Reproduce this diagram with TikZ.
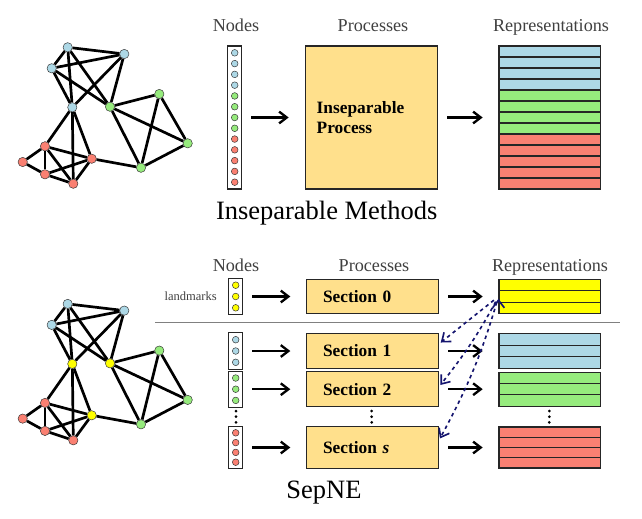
\documentclass[tikz,border=0pt]{standalone}
\usepackage{fontspec}
\setmainfont{Liberation Serif}
\usepackage{tikz}
\usetikzlibrary{arrows.meta}

\definecolor{nblue}{RGB}{173,216,230}
\definecolor{ngreen}{RGB}{150,235,125}
\definecolor{nred}{RGB}{250,128,114}
\definecolor{nyellow}{RGB}{255,255,0}
\definecolor{procfill}{RGB}{255,224,140}
\definecolor{refblue}{RGB}{20,20,110}

\begin{document}
\begin{tikzpicture}[x=0.03cm,y=-0.03cm,
        >={Straight Barb[length=6.5pt,width=10pt]},
        gnode/.style={circle,draw=black!80,thin,inner sep=0pt,minimum size=2.8mm},
        link/.style={line width=2.3pt},
        col/.style={draw=black!85,fill=white,line width=0.9pt,inner sep=0pt,minimum width=0.41cm},
        dot/.style={draw=black!80,thin},
        proc/.style={draw=black!85,fill=procfill,line width=0.9pt,align=left,
            font=\bfseries\fontsize{14.8}{16.8}\selectfont},
        sec/.style={proc,inner xsep=0.49cm,text width=2.97cm},
        rep/.style={draw=black!85,line width=0.9pt,inner sep=0pt,minimum width=3.05cm},
        band/.style={draw=black!85,line width=0.9pt},
        lbl/.style={text=black!75,anchor=base,font=\fontsize{15.5}{18}\selectfont},
        title/.style={anchor=base,font=\fontsize{22.6}{26}\selectfont},
        flow/.style={->,line width=2pt,shorten <=8pt,shorten >=13.5pt},
        ref/.style={->,dashed,draw=refblue,line width=1.4pt,shorten <=5pt,shorten >=2pt}]
    \useasboundingbox (0,0) rectangle (642,518);

    % the two graphs (top: plain, bottom: landmarks in yellow)
    \foreach \g/\dy/\cb/\cg/\cr in {t/0/nblue/ngreen/nred, s/256.6/nyellow/nyellow/nyellow}{
        \begin{scope}[shift={(0,\dy)}]
            \node[gnode,fill=nblue]  (\g b1) at (67.7,47.3) {};
            \node[gnode,fill=nblue]  (\g b2) at (124.3,54) {};
            \node[gnode,fill=nblue]  (\g b3) at (51.7,68.3) {};
            \node[gnode,fill=\cb]    (\g b4) at (72.3,107.3) {};
            \node[gnode,fill=\cg]    (\g g1) at (110,106.7) {};
            \node[gnode,fill=ngreen] (\g g2) at (159.3,94) {};
            \node[gnode,fill=ngreen] (\g g3) at (187.7,143.3) {};
            \node[gnode,fill=ngreen] (\g g4) at (141,167.7) {};
            \node[gnode,fill=nred]   (\g r1) at (45,146.3) {};
            \node[gnode,fill=nred]   (\g r2) at (22.7,162) {};
            \node[gnode,fill=nred]   (\g r3) at (45,174.3) {};
            \node[gnode,fill=nred]   (\g r4) at (73.3,183.7) {};
            \node[gnode,fill=\cr]    (\g r5) at (91.7,158.7) {};
        \end{scope}
        \path[link] (\g b1) edge (\g b2)
                    (\g b1) edge (\g b3)
                    (\g b1) edge (\g b4)
                    (\g b1) edge (\g g1)
                    (\g b3) edge (\g b2)
                    (\g b3) edge (\g b4)
                    (\g b3) edge (\g g1)
                    (\g b2) edge (\g b4)
                    (\g b2) edge (\g g1)
                    (\g g1) edge (\g g2)
                    (\g g1) edge (\g g3)
                    (\g g1) edge (\g g4)
                    (\g g2) edge (\g g3)
                    (\g g2) edge (\g g4)
                    (\g g3) edge (\g g4)
                    (\g b4) edge (\g r1)
                    (\g b4) edge (\g r4)
                    (\g b4) edge (\g r5)
                    (\g r1) edge (\g r2)
                    (\g r1) edge (\g r3)
                    (\g r1) edge (\g r4)
                    (\g r1) edge (\g r5)
                    (\g r2) edge (\g r3)
                    (\g r3) edge (\g r4)
                    (\g r3) edge (\g r5)
                    (\g r4) edge (\g r5)
                    (\g r5) edge (\g g4);
    }

    % inseparable methods
    \node[lbl] (tnodes) at (236,31.5) {Nodes};
    \node[lbl] (tprocs) at (373,31.5) {Processes};
    \node[lbl] (treps)  at (551,31.5) {Representations};

    \node[col,minimum height=4.29cm] (tcol) at (234.7,117.5) {};
    \foreach \i/\c in {0/nblue,1/nblue,2/nblue,3/nblue,4/ngreen,5/ngreen,6/ngreen,7/ngreen,
                       8/nred,9/nred,10/nred,11/nred,12/nred}
        \filldraw[dot,fill=\c] (234.7,{117.5+(\i-6)*10.78}) circle (0.1cm);

    \node[proc,inner xsep=0.35cm,text width=3.27cm,minimum height=4.29cm] (tproc) at (371.2,117.5) {Inseparable\\Process};

    \foreach \i/\c in {0/nblue,1/nblue,2/nblue,3/nblue,4/ngreen,5/ngreen,6/ngreen,7/ngreen,
                       8/nred,9/nred,10/nred,11/nred,12/nred}
        \filldraw[band,fill=\c] (499,{46+\i*11}) rectangle (600.7,{57+\i*11});
    \node[rep,minimum height=4.29cm] (trep) at (549.85,117.5) {};

    \path[flow] (tcol)  edge (tproc)
                (tproc) edge (trep);

    \node[title] (tname) at (326.7,219.3) {Inseparable Methods};

    % SepNE
    \node[lbl] (snodes) at (236,271.5) {Nodes};
    \node[lbl] (sprocs) at (374,271.5) {Processes};
    \node[lbl] (sreps)  at (550,271.5) {Representations};
    \node[anchor=base,text=black!75,font=\fontsize{10.7}{12}\selectfont] (lmk) at (190.7,300.7) {landmarks};

    \foreach \yc/\n/\s/\c/\nm in {296.5/3/11.3/nyellow/lcol, 351/3/11.3/nblue/col1,
                                   389.2/3/11.2/ngreen/col2, 447.5/4/9.8/nred/cols}{
        \node[col,minimum height={(\n*\s+2.5)*0.03cm}] (\nm) at (235.7,\yc) {};
        \foreach \k in {1,...,\n}
            \filldraw[dot,fill=\c] (235.7,{\yc+(\k-(\n+1)/2)*\s}) circle (0.1cm);
    }

    \node[sec,minimum height=1.04cm] (sec0) at (372.5,296.5) {Section 0};
    \node[sec,minimum height=1.05cm] (sec1) at (372.5,351) {Section 1};
    \node[sec,minimum height=1.05cm] (sec2) at (372.5,389.2) {Section 2};
    \node[sec,minimum height=1.25cm] (secs) at (372.5,447.5) {Section \textit{s}};

    \foreach \yc/\n/\h/\c/\nm in {296.5/3/11.5/nyellow/rep0, 351/3/11.5/nblue/rep1,
                                   389.2/3/11.3/ngreen/rep2, 447.5/4/10.25/nred/reps}{
        \foreach \k in {1,...,\n}
            \filldraw[band,fill=\c] (499,{\yc-\n*\h/2+(\k-1)*\h}) rectangle (600.7,{\yc-\n*\h/2+\k*\h});
        \node[rep,minimum height={\n*\h*0.03cm}] (\nm) at (549.85,\yc) {};
    }

    % vertical dots
    \foreach \x in {236,371.7,549.3}
        \foreach \y in {411,416.7,422.3}
            \fill (\x,\y) circle (0.045cm);

    \draw[black!50,line width=1.3pt] (155,322.7) -- (620,322.7);

    \path[flow] (lcol) edge (sec0)
                (sec0) edge (rep0)
                (col1) edge (sec1)
                (sec1) edge (rep1)
                (col2) edge (sec2)
                (sec2) edge (rep2)
                (cols) edge (secs)
                (secs) edge (reps);

    \path[ref] (rep0.west) edge ([yshift=6pt]sec1.east)
               (rep0.west) edge [bend left=5] ([yshift=2pt]sec2.east)
               (rep0.west) edge [bend left=6] ([yshift=6pt]secs.east);

    \node[title] (sname) at (324,498.3) {SepNE};
\end{tikzpicture}
\end{document}
